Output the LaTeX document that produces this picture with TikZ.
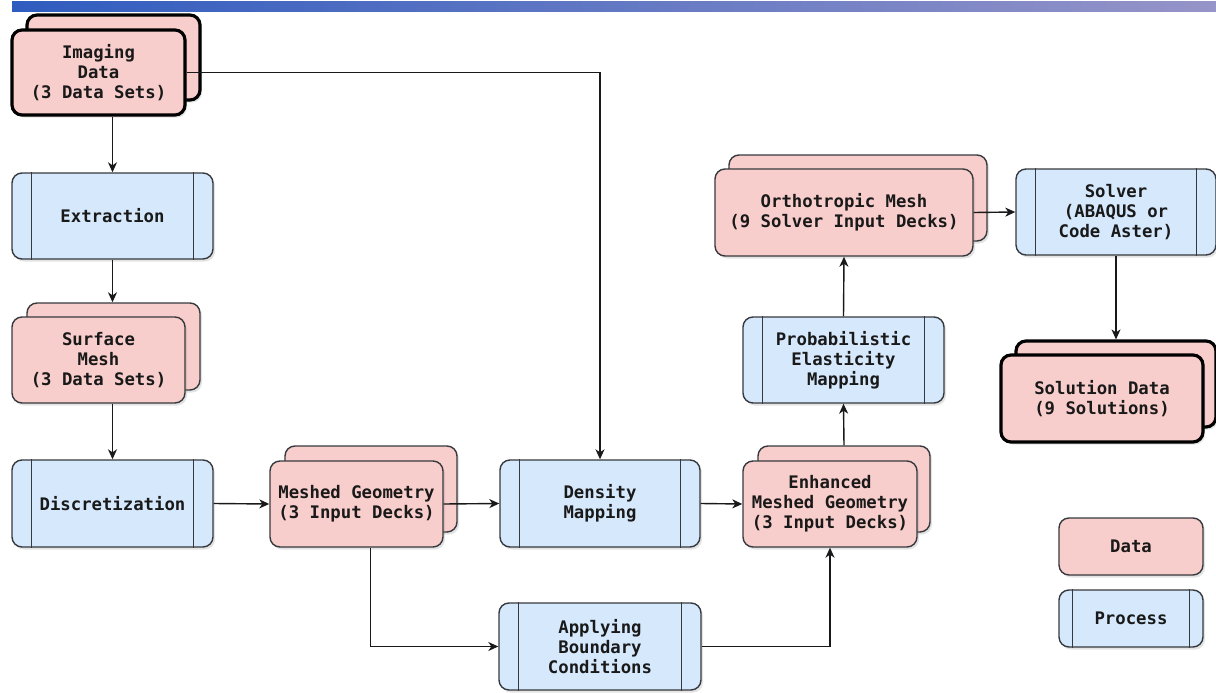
\documentclass[tikz,border=0pt]{standalone}
\usepackage{fontspec}
\setmonofont{DejaVu Sans Mono}
\usetikzlibrary{arrows.meta,shadows}

\definecolor{datafill}{HTML}{F8CECC}
\definecolor{procfill}{HTML}{D5E8FC}
\definecolor{edgegray}{HTML}{36393D}
\definecolor{barleft}{HTML}{2F5CBF}
\definecolor{barright}{HTML}{9694C8}

\newcommand\boxtext{\fontsize{17.3}{20}\selectfont\ttfamily\bfseries}

\tikzset{
  box/.style={rectangle, rounded corners=10pt, draw=edgegray, line width=1.4pt,
    inner sep=0pt, align=center, font=\boxtext, text=black!90,
    drop shadow={shadow xshift=2pt, shadow yshift=-2.5pt, opacity=0.22}},
  databox/.style={box, fill=datafill},
  procbox/.style={box, fill=procfill},
  heavy/.style={draw=black, line width=3.2pt},
  link/.style={draw=black!90, line width=1.4pt,
    -{Stealth[length=10pt, width=9pt, inset=3pt]}},
  bar/.style={draw=edgegray, line width=1.4pt},
}

% vertical side bars of a process box: node name, inset
\newcommand\procbars[2]{%
  \draw[bar] ([xshift=#2]#1.north west) -- ([xshift=#2]#1.south west);
  \draw[bar] ([xshift=-#2]#1.north east) -- ([xshift=-#2]#1.south east);}

\begin{document}
\begin{tikzpicture}[x=1pt, y=-1pt]
\useasboundingbox (0,0) rectangle (1216,693);

% title bar
\shade[left color=barleft, right color=barright] (12,2) rectangle (1216,12);

% imaging data (stacked)
\node[databox, heavy, minimum width=173pt, minimum height=85pt] (imgb) at (113.5,57.5) {};
\node[databox, heavy, minimum width=173pt, minimum height=85pt] (img) at (98.5,72.5)
  {Imaging\\Data\\(3 Data Sets)};

% extraction
\node[procbox, minimum width=201pt, minimum height=86pt] (ext) at (112.5,216) {Extraction};
\procbars{ext}{20pt}

% surface mesh (stacked)
\node[databox, minimum width=173pt, minimum height=87pt] (surfb) at (113.5,346.5) {};
\node[databox, minimum width=173pt, minimum height=86pt] (surf) at (98.5,360)
  {Surface\\Mesh\\(3 Data Sets)};

% discretization
\node[procbox, minimum width=201pt, minimum height=87pt] (disc) at (112.5,503.5) {Discretization};
\procbars{disc}{20pt}

% meshed geometry (stacked)
\node[databox, minimum width=172pt, minimum height=86pt] (meshb) at (371,489) {};
\node[databox, minimum width=173pt, minimum height=86pt] (mesh) at (356.5,504)
  {Meshed Geometry\\(3 Input Decks)};

% density mapping
\node[procbox, minimum width=200pt, minimum height=87pt] (dens) at (600,503.5) {Density\\Mapping};
\procbars{dens}{20pt}

% enhanced meshed geometry (stacked)
\node[databox, minimum width=172pt, minimum height=86pt] (enhb) at (844,489) {};
\node[databox, minimum width=174pt, minimum height=86pt] (enh) at (830,504)
  {Enhanced\\Meshed Geometry\\(3 Input Decks)};

% applying boundary conditions
\node[procbox, minimum width=202pt, minimum height=87pt] (apply) at (600,646.5)
  {Applying\\Boundary\\Conditions};
\procbars{apply}{20pt}

% probabilistic elasticity mapping
\node[procbox, minimum width=201pt, minimum height=86pt] (prob) at (843.5,360)
  {Probabilistic\\Elasticity\\Mapping};
\procbars{prob}{20pt}

% orthotropic mesh (stacked)
\node[databox, minimum width=258pt, minimum height=86pt] (orthob) at (858,198) {};
\node[databox, minimum width=258pt, minimum height=87pt] (ortho) at (844,212.5)
  {Orthotropic Mesh\\(9 Solver Input Decks)};

% solver
\node[procbox, minimum width=200pt, minimum height=86pt] (solver) at (1116,212)
  {Solver\\(ABAQUS or\\Code Aster)};
\procbars{solver}{20pt}

% solution data (stacked)
\node[databox, heavy, minimum width=200pt, minimum height=86pt] (solb) at (1116,384) {};
\node[databox, heavy, minimum width=202pt, minimum height=87pt] (sol) at (1102,398.5)
  {Solution Data\\(9 Solutions)};

% legend
\node[databox, minimum width=144pt, minimum height=57pt] (legdata) at (1131,546.5) {Data};
\node[procbox, minimum width=144pt, minimum height=57pt] (legproc) at (1131,618.5) {Process};
\procbars{legproc}{14pt}

% connectors
\draw[link] (ext.north |- img.south) -- (ext.north);
\draw[link] (img.east) -| (dens.north);
\draw[link] (ext.south) -- (ext.south |- surfb.north);
\draw[link] (disc.north |- surf.south) -- (disc.north);
\draw[link] (disc.east) -- (mesh.west);
\draw[link] (mesh.east) -- (dens.west);
\draw[link] (dens.east) -- (enh.west);
\coordinate (meshtap) at ([xshift=14pt]mesh.south);
\draw[link] (meshtap) |- (apply.west);
\draw[link] (apply.east) -| (enh.south);
\draw[link] (enhb.north) -- (prob.south);
\draw[link] (prob.north) -- (ortho.south);
\draw[link] (ortho.east) -- (solver.west);
\draw[link] (solver.south) -- (solb.north);
\end{tikzpicture}
\end{document}
